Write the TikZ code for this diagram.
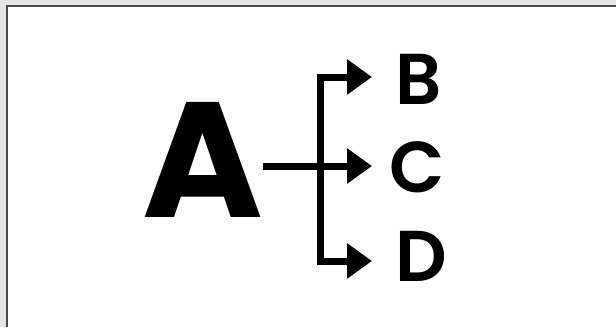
\documentclass[tikz,border=0pt]{standalone}
\usepackage{fontspec}
\setmainfont{Poppins}
\newfontfamily\popsemi{Poppins SemiBold}
\usetikzlibrary{arrows.meta}
\definecolor{framegray}{HTML}{E6E6E6}
\definecolor{edgegray}{HTML}{4A4A4A}
\tikzset{
  bigletter/.style={inner sep=0pt, anchor=base, font=\fontsize{164}{164}\selectfont\bfseries},
  smallletter/.style={inner sep=0pt, anchor=base, font=\fontsize{72}{72}\popsemi},
  conn/.style={line width=7pt, black},
  trunk/.style={conn, line cap=rect},
  arr/.style={conn, -{Triangle[length=25pt,width=34pt]}},
}
\begin{document}
\begin{tikzpicture}[x=1pt,y=-1pt]
  \useasboundingbox (0,0) rectangle (616,327);
  \fill[framegray] (0,0) rectangle (616,327);
  \fill[edgegray] (6,5) rectangle (616,327);
  \fill[white] (8,7) rectangle (616,327);

  \node[bigletter] (A) at (203,217) {A};
  \node[smallletter] (B) at (418.5,104) {B};
  \node[smallletter] (C) at (417.5,192) {C};
  \node[smallletter] (D) at (421.5,281) {D};

  \coordinate (a0) at (263,166);
  \coordinate (jB) at (320,77);
  \coordinate (jD) at (320,261);
  \coordinate (tB) at (372,77);
  \coordinate (tC) at (372,166);
  \coordinate (tD) at (372,261);

  \draw[trunk] (jB) -- (jD);
  \draw[arr] (a0) -- (tC);
  \draw[arr] (jB) -- (tB);
  \draw[arr] (jD) -- (tD);
\end{tikzpicture}
\end{document}
